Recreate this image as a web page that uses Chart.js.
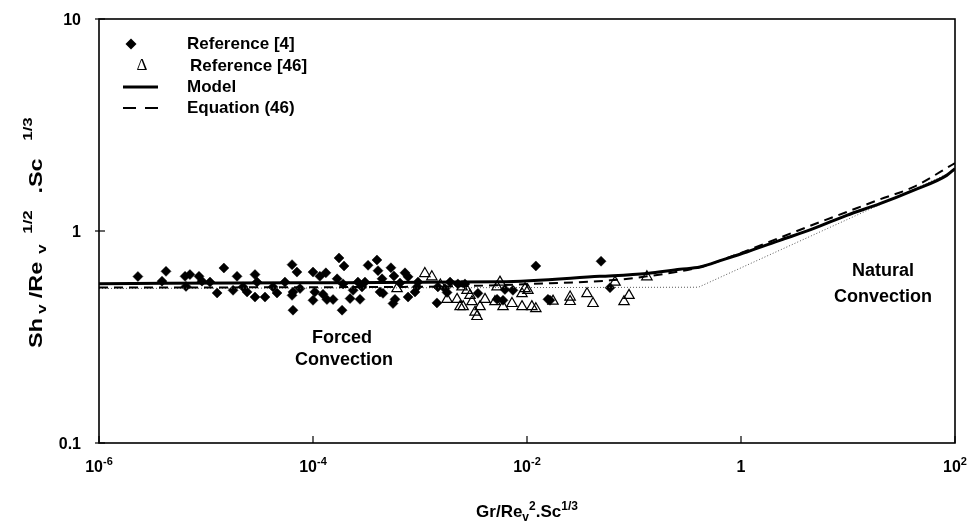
<!DOCTYPE html>
<html><head><meta charset="utf-8">
<script src="https://cdn.jsdelivr.net/npm/chart.js@4/dist/chart.umd.min.js"></script>
<style>html,body{margin:0;padding:0;background:#fff}#wrap{width:978px;height:528px;position:relative}</style>
</head><body><div id="wrap"><canvas id="c" width="978" height="528"></canvas></div>
<script>
// ---- data ----
const ref4X = [2.31e-6,4.23e-6,3.88e-6,6.37e-6,7.08e-6,6.5e-6,8.6e-6,9.18e-6,1.09e-5,1.27e-5,1.47e-5,1.95e-5,1.79e-5,2.22e-5,2.42e-5,2.87e-5,3.0e-5,2.87e-5,3.56e-5,4.23e-5,4.61e-5,5.47e-5,6.37e-5,7.08e-5,6.5e-5,6.37e-5,7.56e-5,6.5e-5,1.0e-4,1.0e-4,1.16e-4,1.32e-4,1.75e-4,1.95e-4,1.68e-4,1.91e-4,1.04e-4,1.24e-4,1.35e-4,1.54e-4,1.87e-4,2.22e-4,2.37e-4,2.75e-4,2.87e-4,2.63e-4,3.06e-4,3.27e-4,3.96e-4,4.05e-4,4.42e-4,4.23e-4,4.51e-4,5.35e-4,5.71e-4,5.84e-4,5.59e-4,6.5e-4,7.24e-4,7.73e-4,7.73e-4,8.98e-4,9.58e-4,9.37e-4,1.44e-3,1.47e-3,1.71e-3,1.79e-3,1.91e-3,2.26e-3,2.63e-3,3.48e-3,5.25e-3,6.22e-3,7.39e-3,5.97e-3,1.21e-2,1.64e-2,1.57e-2,4.92e-2,5.97e-2];
const ref4Y = [0.61,0.645,0.58,0.611,0.623,0.548,0.611,0.58,0.574,0.51,0.669,0.611,0.525,0.545,0.516,0.623,0.574,0.488,0.488,0.545,0.51,0.574,0.694,0.64,0.516,0.497,0.535,0.423,0.64,0.471,0.611,0.635,0.746,0.684,0.595,0.563,0.516,0.503,0.475,0.475,0.423,0.48,0.525,0.476,0.545,0.574,0.574,0.689,0.73,0.65,0.595,0.516,0.508,0.671,0.613,0.476,0.455,0.568,0.635,0.608,0.488,0.516,0.574,0.545,0.458,0.545,0.535,0.513,0.574,0.563,0.563,0.508,0.476,0.53,0.525,0.471,0.684,0.471,0.476,0.72,0.54];
const ref46X = [1.11e-3,1.29e-3,6.1e-4,1.55e-3,1.79e-3,2.22e-3,2.37e-3,2.53e-3,3.06e-3,2.93e-3,3.27e-3,3.41e-3,3.64e-3,4.05e-3,5.02e-3,5.97e-3,5.59e-3,5.25e-3,7.24e-3,2.75e-3,2.47e-3,8.98e-3,1.11e-2,1.21e-2,8.98e-3,9.58e-3,1.02e-2,1.75e-2,2.53e-2,2.53e-2,3.64e-2,4.14e-2,6.64e-2,8.07e-2,8.98e-2,0.132];
const ref46Y = [0.63,0.608,0.535,0.556,0.476,0.476,0.44,0.44,0.464,0.497,0.414,0.395,0.44,0.476,0.464,0.44,0.574,0.545,0.455,0.525,0.545,0.44,0.44,0.43,0.506,0.535,0.525,0.467,0.488,0.465,0.506,0.455,0.574,0.464,0.497,0.608];
const modelX = [1e-6,7.56e-5,5.6e-3,0.048,0.132,0.269,0.414,0.684,1.13,2.31,4.74,9.73,19.9,40.8,83.6,100];
const modelY = [0.564,0.570,0.576,0.611,0.631,0.660,0.676,0.733,0.796,0.904,1.026,1.186,1.346,1.556,1.83,1.97];
const eqX = [1e-6,7.56e-5,1.91e-3,1.64e-2,0.0597,0.132,0.414,0.789,2.31,4.7,9.73,19.9,40.6,100];
const eqY = [0.541,0.543,0.548,0.567,0.585,0.611,0.676,0.754,0.93,1.07,1.23,1.41,1.61,2.09];
const asymX = [1e-6,0.4,100];
const asymY = [0.536,0.543,1.93];
const xTickExps = [-6,-4,-2,0,2];
const yTickVals = [0.1,1,10];
const yTickLabels = ['0.1','1','10'];
const legendLabels = ['Reference [4]','Reference [46]','Model','Equation (46)'];

const FF = '"Liberation Sans", Arial, Helvetica, sans-serif';
const pts = (xs, ys) => xs.map((x, i) => ({x, y: ys[i]}));

function rich(ctx, parts, x, y, align) {
  let w = 0;
  parts.forEach(p => { ctx.font = 'bold ' + p.s + 'px ' + FF; p.w = ctx.measureText(p.t).width; w += p.w; });
  let cx = align === 'center' ? x - w / 2 : (align === 'right' ? x - w : x);
  ctx.textAlign = 'left';
  ctx.textBaseline = 'alphabetic';
  parts.forEach(p => { ctx.font = 'bold ' + p.s + 'px ' + FF; ctx.fillText(p.t, cx, y + (p.dy || 0)); cx += p.w; });
}

const deco = {
  id: 'deco',
  afterDraw(chart) {
    const ctx = chart.ctx, a = chart.chartArea, xs = chart.scales.x, ys = chart.scales.y;
    ctx.save();
    ctx.strokeStyle = '#000'; ctx.fillStyle = '#000';
    ctx.lineWidth = 1.6;
    ctx.strokeRect(a.left, a.top, a.right - a.left, a.bottom - a.top);
    ctx.lineWidth = 1.2;
    yTickVals.forEach((v, i) => {
      const py = ys.getPixelForValue(v);
      ctx.beginPath(); ctx.moveTo(a.left - 4, py); ctx.lineTo(a.left + 6, py); ctx.stroke();
      rich(ctx, [{t: yTickLabels[i], s: 16}], a.left - 18, py + 6, 'right');
    });
    xTickExps.forEach(e => {
      const px = xs.getPixelForValue(Math.pow(10, e));
      ctx.beginPath(); ctx.moveTo(px, a.bottom); ctx.lineTo(px, a.bottom - 7); ctx.stroke();
      const parts = e === 0 ? [{t: '1', s: 16}] : [{t: '10', s: 16}, {t: String(e), s: 11, dy: -7}];
      rich(ctx, parts, px, a.bottom + 29, 'center');
    });
    // x title
    rich(ctx, [{t: 'Gr/Re', s: 17}, {t: 'v', s: 12, dy: 4}, {t: '2', s: 12, dy: -7}, {t: '.Sc', s: 17}, {t: '1/3', s: 12, dy: -7}],
      (a.left + a.right) / 2, 517, 'center');
    // y title (rotated, pieces placed along the axis)
    ctx.save();
    ctx.translate(42, 230);
    ctx.rotate(-Math.PI / 2);
    ctx.textAlign = 'center'; ctx.textBaseline = 'alphabetic';
    const yt = [
      {t: 'Sh', s: 18, u: -103, dy: 0},
      {t: 'v', s: 13, u: -79, dy: 4},
      {t: '/Re', s: 18, u: -50, dy: 0},
      {t: 'v', s: 13, u: -19, dy: 4},
      {t: '1/2', s: 13, u: 8, dy: -10},
      {t: '.Sc', s: 18, u: 54, dy: 0},
      {t: '1/3', s: 13, u: 101, dy: -10}
    ];
    yt.forEach(p => {
      ctx.save();
      ctx.translate(p.u, p.dy);
      ctx.scale(1.3, 1);
      ctx.font = 'bold ' + p.s + 'px ' + FF;
      ctx.fillText(p.t, 0, 0);
      ctx.restore();
    });
    ctx.restore();
    // annotations
    ctx.font = 'bold 18px ' + FF; ctx.textAlign = 'center'; ctx.textBaseline = 'middle';
    ctx.fillText('Forced', 342, 338);
    ctx.fillText('Convection', 344, 360);
    ctx.fillText('Natural', 883, 271);
    ctx.fillText('Convection', 883, 297);
    // legend
    ctx.textAlign = 'left'; ctx.textBaseline = 'middle';
    ctx.beginPath(); ctx.moveTo(131, 38.5); ctx.lineTo(136.5, 44); ctx.lineTo(131, 49.5); ctx.lineTo(125.5, 44); ctx.closePath(); ctx.fill();
    ctx.font = 'bold 17px ' + FF;
    ctx.fillText(legendLabels[0], 187, 44);
    ctx.font = '17px "Liberation Serif", "DejaVu Serif", serif';
    ctx.textAlign = 'center';
    ctx.fillText('\u0394', 142, 66);
    ctx.textAlign = 'left';
    ctx.font = 'bold 17px ' + FF;
    ctx.fillText(legendLabels[1], 190, 66);
    ctx.lineWidth = 3;
    ctx.beginPath(); ctx.moveTo(123, 87); ctx.lineTo(158, 87); ctx.stroke();
    ctx.fillText(legendLabels[2], 187, 87);
    ctx.lineWidth = 2;
    ctx.beginPath(); ctx.moveTo(123, 108); ctx.lineTo(136, 108); ctx.moveTo(145, 108); ctx.lineTo(158, 108); ctx.stroke();
    ctx.fillText(legendLabels[3], 187, 108);
    ctx.restore();
  }
};

new Chart(document.getElementById('c'), {
  type: 'scatter',
  data: {
    datasets: [
      {label: legendLabels[2], data: pts(modelX, modelY), showLine: true, borderColor: '#000', borderWidth: 3, pointRadius: 0, cubicInterpolationMode: 'monotone', order: 0},
      {label: legendLabels[3], data: pts(eqX, eqY), showLine: true, borderColor: '#000', borderWidth: 2, borderDash: [9, 6], pointRadius: 0, cubicInterpolationMode: 'monotone', order: 1},
      {label: 'asymptotes', data: pts(asymX, asymY), showLine: true, borderColor: '#555', borderWidth: 1, borderDash: [1, 2], pointRadius: 0, order: 2},
      {label: legendLabels[0], data: pts(ref4X, ref4Y), pointStyle: 'rectRot', pointRadius: 5, backgroundColor: '#000', borderColor: '#000', borderWidth: 0.5, order: 4},
      {label: legendLabels[1], data: pts(ref46X, ref46Y), pointStyle: 'triangle', pointRadius: 6, backgroundColor: 'rgba(255,255,255,0)', borderColor: '#000', borderWidth: 1.2, order: 3}
    ]
  },
  options: {
    responsive: false,
    animation: false,
    devicePixelRatio: 1,
    layout: {padding: {left: 99, right: 23, top: 19, bottom: 85}},
    plugins: {legend: {display: false}, tooltip: {enabled: false}},
    scales: {
      x: {type: 'logarithmic', min: 1e-6, max: 100, display: false},
      y: {type: 'logarithmic', min: 0.1, max: 10, display: false}
    }
  },
  plugins: [deco]
});
</script>
</body></html>
